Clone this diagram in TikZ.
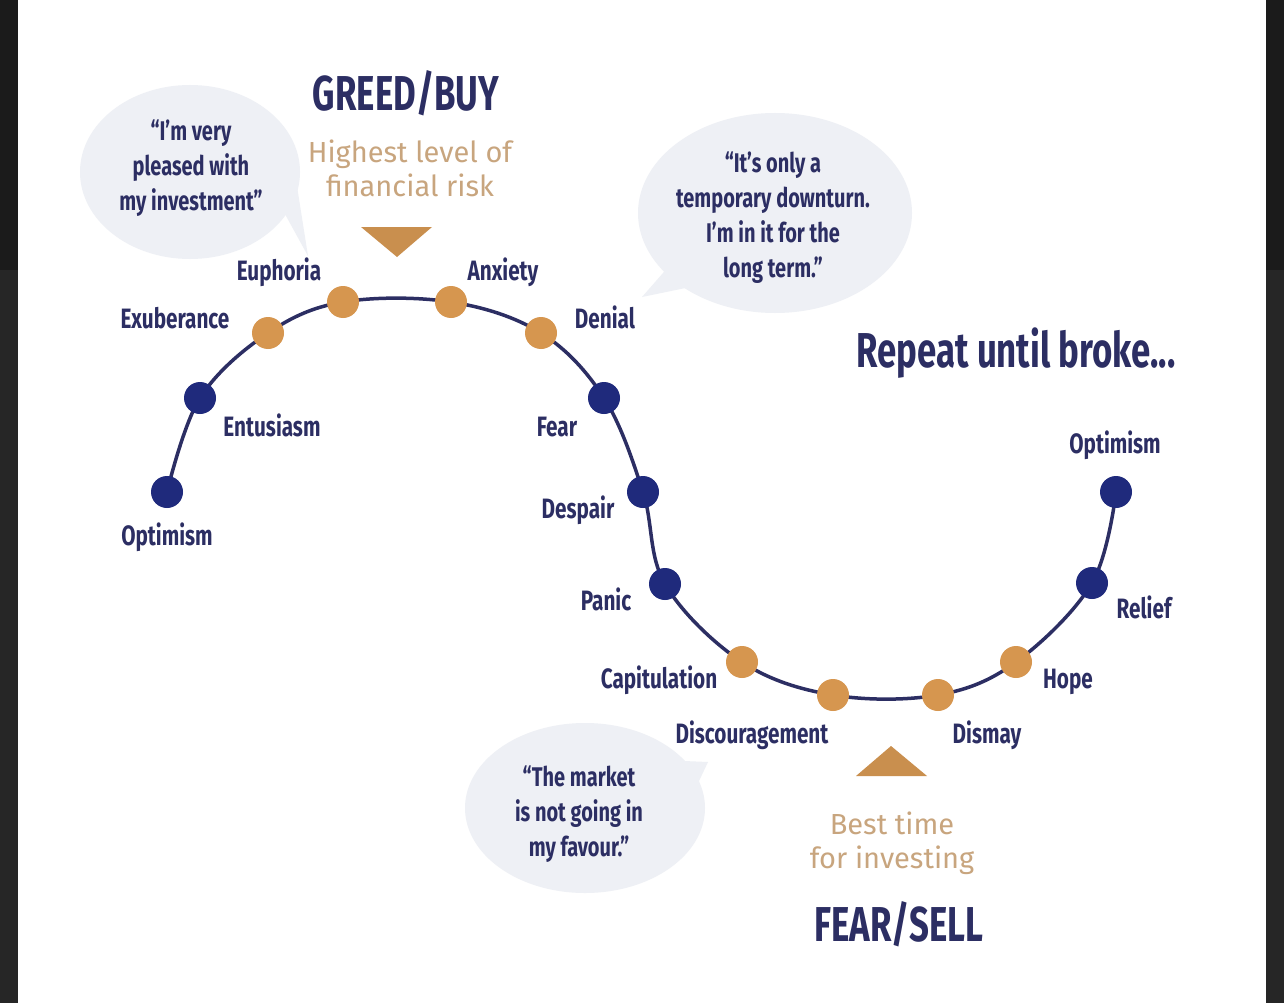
\documentclass[tikz,border=0pt]{standalone}
\usepackage{fontspec}
\usetikzlibrary{shapes.geometric}
\newfontfamily\condf[FakeStretch=0.74]{Fira Sans}
\newfontfamily\condh[FakeStretch=0.71]{Fira Sans}
\newfontfamily\plainf{Fira Sans}
\definecolor{navytext}{HTML}{2C2E63}
\definecolor{navydot}{HTML}{1F2A7C}
\definecolor{orangedot}{HTML}{D6964F}
\definecolor{trifill}{HTML}{C98F4E}
\definecolor{tantext}{HTML}{C8A57E}
\definecolor{bubblefill}{HTML}{EEF0F5}
\definecolor{stripA}{HTML}{1B1B1B}
\definecolor{stripB}{HTML}{262626}
\begin{document}
\begin{tikzpicture}[x=1pt,y=-1pt,
  dotnavy/.style={circle,fill=navydot,minimum size=32pt,inner sep=0pt},
  dotorange/.style={circle,fill=orangedot,minimum size=32pt,inner sep=0pt},
  lbl/.style={text=navytext,font=\condf\bfseries\fontsize{28}{32}\selectfont,inner sep=0pt,text height=19pt,text depth=5pt},
  headline/.style={text=navytext,font=\condh\bfseries\fontsize{49}{54}\selectfont,inner sep=0pt},
  tan/.style={text=tantext,font=\plainf\fontsize{29}{34}\selectfont,align=center,inner sep=0pt},
  bubble/.style={ellipse,fill=bubblefill,inner sep=0pt},
  bubbletext/.style={align=center,text=navytext,inner sep=0pt,font=\condf\bfseries\fontsize{27}{35}\selectfont},
  curveline/.style={draw=navytext,line width=3.5pt},
  tri/.style={fill=trifill}]
\useasboundingbox (0,0) rectangle (1284,1003);
\fill[white] (0,0) rectangle (1284,1003);
\fill[stripA] (0,0) rectangle (18,270);
\fill[stripB] (0,270) rectangle (18,1003);
\fill[stripA] (1266,0) rectangle (1284,270);
\fill[stripB] (1266,270) rectangle (1284,1003);

% speech bubbles
\fill[bubblefill] (280,205) -- (308,256) -- (296,180) -- cycle;
\node[bubble,minimum width=220pt,minimum height=174pt] (b1) at (190,172) {};
\node[bubbletext] (t1) at (191,168) {“I’m very\\pleased with\\my investment”};
\fill[bubblefill] (670,265) -- (642,297) -- (700,285) -- cycle;
\node[bubble,minimum width=274pt,minimum height=200pt] (b2) at (775,213) {};
\node[bubbletext] (t2) at (773,218) {“It’s only a\\temporary downturn.\\I’m in it for the\\long term.”};
\fill[bubblefill] (660,760) -- (708,762) -- (690,800) -- cycle;
\node[bubble,minimum width=240pt,minimum height=170pt] (b3) at (585,808) {};
\node[bubbletext] (t3) at (579,814) {“The market\\is not going in\\my favour.”};

% curve points
\coordinate (p1) at (167,492);
\coordinate (p2) at (200,398);
\coordinate (p3) at (268,333);
\coordinate (p4) at (343,302);
\coordinate (p5) at (451,302);
\coordinate (p6) at (541,333);
\coordinate (p7) at (604,398);
\coordinate (p8) at (643,492);
\coordinate (p9) at (665,584);
\coordinate (p10) at (742,662);
\coordinate (p11) at (833,695);
\coordinate (p12) at (938,695);
\coordinate (p13) at (1016,662);
\coordinate (p14) at (1092,583);
\coordinate (p15) at (1116,492);
\draw[curveline] plot[smooth,tension=0.6] coordinates {(p1) (p2) (p3) (p4) (p5) (p6) (p7) (p8) (p9) (p10) (p11) (p12) (p13) (p14) (p15)};

\node[dotnavy] (d1) at (p1) {};
\node[dotnavy] (d2) at (p2) {};
\node[dotorange] (d3) at (p3) {};
\node[dotorange] (d4) at (p4) {};
\node[dotorange] (d5) at (p5) {};
\node[dotorange] (d6) at (p6) {};
\node[dotnavy] (d7) at (p7) {};
\node[dotnavy] (d8) at (p8) {};
\node[dotnavy] (d9) at (p9) {};
\node[dotorange] (d10) at (p10) {};
\node[dotorange] (d11) at (p11) {};
\node[dotorange] (d12) at (p12) {};
\node[dotorange] (d13) at (p13) {};
\node[dotnavy] (d14) at (p14) {};
\node[dotnavy] (d15) at (p15) {};

% labels
\node[lbl] (l1) at (167,538) {Optimism};
\node[lbl] (l2) at (272,429) {Entusiasm};
\node[lbl] (l3) at (175,321) {Exuberance};
\node[lbl] (l4) at (279,273) {Euphoria};
\node[lbl] (l5) at (503,273) {Anxiety};
\node[lbl] (l6) at (605,321) {Denial};
\node[lbl] (l7) at (557,429) {Fear};
\node[lbl] (l8) at (578,511) {Despair};
\node[lbl] (l9) at (606,603) {Panic};
\node[lbl] (l10) at (659,681) {Capitulation};
\node[lbl] (l11) at (752,736) {Discouragement};
\node[lbl] (l12) at (987,736) {Dismay};
\node[lbl] (l13) at (1068,681) {Hope};
\node[lbl] (l14) at (1144,611) {Relief};
\node[lbl] (l15) at (1115,446) {Optimism};

% headings
\node[headline] (greed) at (406,93) {GREED/BUY};
\node[tan] (risk) at (410,168) {Highest level of\\financial risk};
\fill[tri] (361,227) -- (432,227) -- (397,257) -- cycle;
\node[headline] (repeat) at (1016,353) {Repeat until broke...};
\fill[tri] (891,746) -- (927,776) -- (856,776) -- cycle;
\node[tan] (best) at (892,843) {Best time\\for investing};
\node[headline] (fear) at (899,924) {FEAR/SELL};
\end{tikzpicture}
\end{document}
